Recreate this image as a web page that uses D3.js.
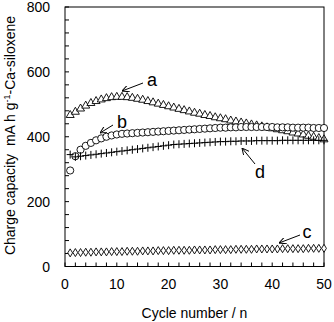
<!DOCTYPE html>
<html lang="en">
<head>
<meta charset="UTF-8">
<title>Charge capacity</title>
<script src="https://cdn.jsdelivr.net/npm/d3@7/dist/d3.min.js"></script>
<style>
  body { margin: 0; background: #fff; }
  text { font-family: Arial, "Liberation Sans", sans-serif; fill: #000; }
</style>
</head>
<body>
<script>
// cycle numbers 1..50
var cycles = d3.range(1, 51);

// series a (triangles)
var seriesA = [468, 478, 488, 497, 505, 511, 516, 520, 523, 524,
               524, 523, 521, 518, 515, 511, 507, 503, 499, 495,
               491, 487, 483, 479, 475, 472, 468, 465, 461, 458,
               455, 451, 448, 445, 442, 439, 436, 433, 430, 427,
               424, 421, 418, 414, 411, 408, 404, 401, 397, 393];
// series b (circles)
var seriesB = [296, 340, 360, 372, 381, 389, 395, 400, 404, 407,
               409, 410, 411, 412, 413, 414, 415, 416, 417, 418,
               419, 420, 421, 422, 423, 424, 425, 426, 427, 428,
               428, 429, 429, 430, 430, 430, 430, 430, 430, 430,
               429, 429, 429, 428, 428, 428, 428, 427, 427, 427];
// series c (diamonds)
var seriesC = [42, 43, 43, 44, 44, 45, 45, 45, 46, 46,
               46, 47, 47, 47, 48, 48, 48, 49, 49, 49,
               50, 50, 50, 50, 51, 51, 51, 51, 52, 52,
               52, 52, 53, 53, 53, 53, 54, 54, 54, 54,
               54, 55, 55, 55, 55, 55, 56, 56, 56, 56];
// series d (crosses)
var seriesD = [345, 338, 340, 342, 344, 346, 348, 350, 352, 354,
               356, 358, 360, 362, 364, 366, 368, 370, 372, 374,
               376, 377, 378, 379, 380, 381, 382, 383, 384, 385,
               385, 386, 386, 387, 387, 387, 388, 388, 388, 388,
               388, 389, 389, 389, 389, 389, 389, 389, 389, 389];

var xTicks = [0, 10, 20, 30, 40, 50];
var yTicks = [0, 200, 400, 600, 800];

var w = 334, h = 322;
var pLeft = 65, pRight = 324, pTop = 7, pBottom = 266.5;

var x = d3.scaleLinear().domain([0, 50]).range([pLeft, pRight]);
var y = d3.scaleLinear().domain([0, 800]).range([pBottom, pTop]);

var svg = d3.select("body").append("svg")
    .attr("width", w)
    .attr("height", h);

// arrow head marker
svg.append("defs").append("marker")
    .attr("id", "arr")
    .attr("viewBox", "0 0 10 10")
    .attr("refX", 10).attr("refY", 5)
    .attr("markerWidth", 7).attr("markerHeight", 7)
    .attr("markerUnits", "userSpaceOnUse")
    .attr("orient", "auto-start-reverse")
    .append("path")
    .attr("d", "M0,0 L10,5 L0,10")
    .attr("fill", "none")
    .attr("stroke", "#000")
    .attr("stroke-width", 1.4);

// frame
svg.append("rect")
    .attr("x", pLeft).attr("y", pTop)
    .attr("width", pRight - pLeft).attr("height", pBottom - pTop)
    .attr("fill", "none").attr("stroke", "#000").attr("stroke-width", 1);

// minor/major ticks, inward
var xt = d3.range(0, 51, 2);
svg.append("g").selectAll("line").data(xt).enter().append("line")
    .attr("x1", function(d) { return x(d); })
    .attr("x2", function(d) { return x(d); })
    .attr("y1", pBottom).attr("y2", pBottom - 4)
    .attr("stroke", "#000");

var yt = d3.range(0, 801, 40);
svg.append("g").selectAll("line").data(yt).enter().append("line")
    .attr("y1", function(d) { return y(d); })
    .attr("y2", function(d) { return y(d); })
    .attr("x1", pLeft).attr("x2", pLeft + 4)
    .attr("stroke", "#000");

// tick labels
svg.append("g").selectAll("text").data(xTicks).enter().append("text")
    .attr("x", function(d) { return x(d); })
    .attr("y", 289)
    .attr("text-anchor", "middle")
    .style("font-size", "14px")
    .text(function(d) { return d; });

svg.append("g").selectAll("text").data(yTicks).enter().append("text")
    .attr("x", 50)
    .attr("y", function(d) { return y(d) + 5; })
    .attr("text-anchor", "end")
    .style("font-size", "14px")
    .text(function(d) { return d; });

// axis titles
svg.append("text")
    .attr("x", (pLeft + pRight) / 2)
    .attr("y", 318)
    .attr("text-anchor", "middle")
    .style("font-size", "14px")
    .text("Cycle number / n");

var yl = svg.append("text")
    .attr("transform", "translate(15," + 135.5 + ") rotate(-90)")
    .attr("text-anchor", "middle")
    .style("font-size", "14px");
yl.append("tspan").text("Charge capacity\u00a0\u00a0mA h g");
yl.append("tspan").attr("dy", -5).style("font-size", "9px").text("-1");
yl.append("tspan").attr("dy", 5).text("-Ca-siloxene");

// marker shapes
function tri(d) {
    return "M0,-4.2 L4,2.8 L-4,2.8 Z";
}
function dia(d) {
    return "M0,-4 L2.4,0 L0,4 L-2.4,0 Z";
}
function cross(d) {
    return "M-3.5,0 L3.5,0 M0,-4 L0,4";
}

var ptsA = cycles.map(function(c, i) { return [c, seriesA[i]]; });
var ptsB = cycles.map(function(c, i) { return [c, seriesB[i]]; });
var ptsC = cycles.map(function(c, i) { return [c, seriesC[i]]; });
var ptsD = cycles.map(function(c, i) { return [c, seriesD[i]]; });

svg.append("g").selectAll("path").data(ptsA).enter().append("path")
    .attr("transform", function(d) { return "translate(" + x(d[0]) + "," + y(d[1]) + ")"; })
    .attr("d", tri)
    .attr("fill", "#fff").attr("stroke", "#000").attr("stroke-width", 0.9);

svg.append("g").selectAll("circle").data(ptsB).enter().append("circle")
    .attr("cx", function(d) { return x(d[0]); })
    .attr("cy", function(d) { return y(d[1]); })
    .attr("r", 3.6)
    .attr("fill", "#fff").attr("stroke", "#000").attr("stroke-width", 0.9);

svg.append("g").selectAll("path").data(ptsD).enter().append("path")
    .attr("transform", function(d) { return "translate(" + x(d[0]) + "," + y(d[1]) + ")"; })
    .attr("d", cross)
    .attr("fill", "none").attr("stroke", "#000").attr("stroke-width", 1);

svg.append("g").selectAll("path").data(ptsC).enter().append("path")
    .attr("transform", function(d) { return "translate(" + x(d[0]) + "," + y(d[1]) + ")"; })
    .attr("d", dia)
    .attr("fill", "#fff").attr("stroke", "#000").attr("stroke-width", 0.9);

// labels with arrows
var notes = [
    { t: "a", tx: 152, ty: 86, x1: 143, y1: 83, x2: 122, y2: 91 },
    { t: "b", tx: 122, ty: 128, x1: 113, y1: 125, x2: 100, y2: 133 },
    { t: "c", tx: 307, ty: 238, x1: 300, y1: 235, x2: 279, y2: 243 },
    { t: "d", tx: 260, ty: 178, x1: 255, y1: 164, x2: 242, y2: 148 }
];
svg.append("g").selectAll("line").data(notes).enter().append("line")
    .attr("x1", function(d) { return d.x1; })
    .attr("y1", function(d) { return d.y1; })
    .attr("x2", function(d) { return d.x2; })
    .attr("y2", function(d) { return d.y2; })
    .attr("stroke", "#000").attr("stroke-width", 1)
    .attr("marker-end", "url(#arr)");

svg.append("g").selectAll("text").data(notes).enter().append("text")
    .attr("x", function(d) { return d.tx; })
    .attr("y", function(d) { return d.ty; })
    .attr("text-anchor", "middle")
    .style("font-size", "18px")
    .text(function(d) { return d.t; });
</script>
</body>
</html>
